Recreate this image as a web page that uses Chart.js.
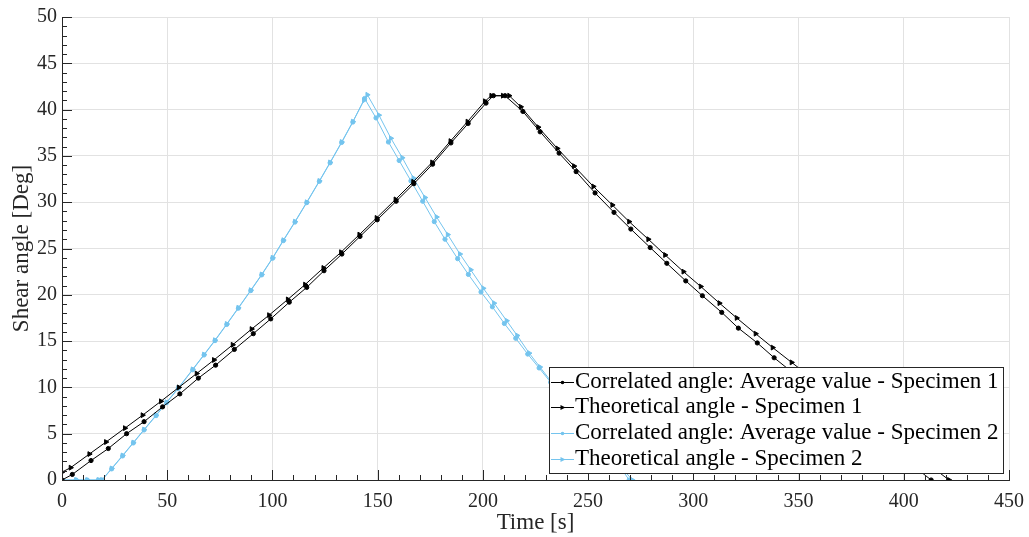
<!DOCTYPE html>
<html>
<head>
<meta charset="utf-8">
<script src="https://cdn.jsdelivr.net/npm/chart.js@4/dist/chart.umd.min.js"></script>
<style>
  html, body { margin: 0; padding: 0; background: #ffffff; }
  #wrap { width: 1029px; height: 537px; }
</style>
</head>
<body>
<div id="wrap"><canvas id="c" width="1029" height="537"></canvas></div>
<script>
// ---- data ----
const seriesLabels = [
  'Correlated angle: Average value - Specimen 1',
  'Theoretical angle - Specimen 1',
  'Correlated angle: Average value - Specimen 2',
  'Theoretical angle - Specimen 2'
];

const tS1Corr = [0, 4.9, 13.8, 22, 30.7, 39, 47.8, 56, 64.8, 73, 81.9, 90.9, 99.2, 108, 116.3, 124.5, 133, 141.6, 149.8, 158.8, 167.2, 176.1, 184.8, 193, 201.5, 205, 210.5, 219, 227.2, 236.2, 244.3, 253.3, 262.3, 270.3, 279.5, 287.4, 296.4, 304.3, 313.5, 321.4, 330.4, 338.4, 347, 355.5, 364, 372.5, 381, 389.5, 398, 406, 413];
const vS1Corr = [0, 0.6, 2.1, 3.4, 5.0, 6.3, 7.9, 9.3, 11.0, 12.4, 14.1, 15.8, 17.4, 19.2, 20.8, 22.6, 24.4, 26.3, 28.1, 30.1, 32.0, 34.1, 36.4, 38.5, 40.7, 41.5, 41.5, 39.8, 37.6, 35.3, 33.3, 31.0, 28.9, 27.1, 25.1, 23.4, 21.5, 19.9, 18.1, 16.4, 14.8, 13.2, 11.63, 10.09, 8.57, 7.07, 5.58, 4.1, 2.64, 1.27, 0];

const tS1Theo = [0, 4.1, 13, 20.9, 29.9, 38.3, 47, 55.5, 64, 72.2, 81.1, 90.1, 98.4, 107.3, 115.5, 124.2, 132.6, 141.3, 149.5, 158.5, 166.9, 175.9, 184.6, 192.7, 201, 204, 209.5, 212.5, 218, 226.3, 235.4, 243.3, 252.5, 261.5, 269.5, 278.6, 286.6, 295.3, 303.5, 312.4, 320.6, 329.6, 337.7, 346.7, 355, 363.5, 372, 380.5, 389, 397.5, 406, 414, 421.5];
const vS1Theo = [0.85, 1.33, 2.8, 4.1, 5.6, 7.0, 8.5, 10.0, 11.5, 12.96, 14.6, 16.3, 17.8, 19.5, 21.1, 22.9, 24.6, 26.5, 28.3, 30.3, 32.2, 34.3, 36.6, 38.7, 40.9, 41.5, 41.5, 41.5, 40.3, 38.1, 35.8, 33.9, 31.7, 29.7, 27.9, 26.0, 24.3, 22.5, 20.9, 19.1, 17.5, 15.8, 14.3, 12.7, 11.24, 9.76, 8.3, 6.85, 5.42, 4.0, 2.6, 1.3, 0];

const tS2Corr = [0, 6.7, 12, 17.3, 19, 23.6, 28.8, 33.9, 39, 44.7, 49.7, 55.3, 62.1, 67.5, 72.7, 78.3, 83.8, 89.7, 94.9, 100.1, 105.2, 110.7, 116.3, 122.3, 127.4, 132.9, 138.2, 143.8, 149.2, 155.1, 160.2, 165.8, 171.4, 176.9, 182, 188, 193.1, 199.1, 204.5, 210.2, 215.6, 221.3, 226.7, 232.2, 237.7, 243.2, 248.7, 254.2, 259.7, 265, 269.5];
const vS2Corr = [0, 0, 0, 0, 0, 1.2, 2.6, 4.0, 5.4, 6.95, 8.35, 9.9, 11.9, 13.5, 15.05, 16.8, 18.55, 20.45, 22.15, 23.95, 25.85, 27.85, 29.95, 32.25, 34.25, 36.45, 38.65, 41.2, 39.1, 36.5, 34.5, 32.3, 30.1, 27.9, 26.0, 23.9, 22.2, 20.3, 18.7, 16.9, 15.3, 13.6, 12.1, 10.55, 9.0, 7.47, 5.95, 4.45, 2.95, 1.5, 0];

const tS2Theo = [0, 6.7, 12, 17.3, 19, 23.6, 28.8, 33.9, 39, 44.7, 49.7, 55.3, 62.1, 67.5, 72.7, 78.3, 83.8, 89.7, 94.9, 100.1, 105.2, 110.7, 116.3, 122.3, 127.4, 132.9, 138.2, 143.5, 145.1, 150.6, 156.3, 161.7, 167, 172.5, 178, 183.3, 189.1, 194.2, 200.2, 205.3, 211.3, 216.3, 222, 227.1, 232.5, 238, 243.5, 249, 254.5, 260, 265.5, 271];
const vS2Theo = [0, 0, 0, 0, 0, 1.25, 2.65, 4.05, 5.45, 7.0, 8.4, 9.95, 11.95, 13.55, 15.1, 16.85, 18.6, 20.5, 22.2, 24.0, 25.9, 27.9, 30.0, 32.3, 34.3, 36.5, 38.7, 41.0, 41.6, 39.4, 36.9, 34.8, 32.6, 30.5, 28.4, 26.5, 24.4, 22.7, 20.7, 19.1, 17.2, 15.6, 13.7, 12.2, 10.62, 9.04, 7.48, 5.94, 4.42, 2.93, 1.45, 0];

const xAxisRange = [0, 450];
const yAxisRange = [0, 50];
const xTickStep = 50, xMinorStep = 10;
const yTickStep = 5, yMinorStep = 1;
const xTitle = 'Time [s]';
const yTitle = 'Shear angle [Deg]';

// ---- styles ----
const BLACK = '#000000';
const BLUE = '#74C4EE';
const AXIS = '#262626';
const GRID = '#e2e2e2';
const SERIF = '"Liberation Serif", "Times New Roman", serif';

function pts(ts, vs) { return ts.map((t, i) => ({ x: t, y: vs[i] })); }

function makeSet(label, ts, vs, color, style) {
  const tri = style === 'tri';
  return {
    label,
    data: pts(ts, vs),
    borderColor: color,
    backgroundColor: color,
    borderWidth: 1,
    pointStyle: tri ? 'triangle' : 'circle',
    rotation: tri ? 90 : 0,
    pointRadius: tri ? 2.8 : 2.1,
    pointBorderWidth: 1,
    pointBackgroundColor: color,
    pointBorderColor: color,
    tension: 0,
    fill: false,
    showLine: true
  };
}

const datasets = [
  makeSet(seriesLabels[0], tS1Corr, vS1Corr, BLACK, 'circ'),
  makeSet(seriesLabels[1], tS1Theo, vS1Theo, BLACK, 'tri'),
  makeSet(seriesLabels[2], tS2Corr, vS2Corr, BLUE, 'circ'),
  makeSet(seriesLabels[3], tS2Theo, vS2Theo, BLUE, 'tri')
];

// inner (MATLAB-style) major and minor ticks
const innerTicks = {
  id: 'innerTicks',
  afterDatasetsDraw(chart) {
    const { ctx, chartArea: a, scales } = chart;
    const x = scales.x, y = scales.y;
    ctx.save();
    ctx.strokeStyle = AXIS;
    ctx.lineWidth = 1;
    ctx.beginPath();
    const nx = Math.round((xAxisRange[1] - xAxisRange[0]) / xMinorStep);
    for (let i = 0; i <= nx; i++) {
      const v = xAxisRange[0] + i * xMinorStep;
      const px = Math.round(x.getPixelForValue(v)) + 0.5;
      const len = (Math.round(v) % xTickStep === 0) ? 10 : 5;
      ctx.moveTo(px, a.bottom);
      ctx.lineTo(px, a.bottom - len);
    }
    const ny = Math.round((yAxisRange[1] - yAxisRange[0]) / yMinorStep);
    for (let i = 0; i <= ny; i++) {
      const v = yAxisRange[0] + i * yMinorStep;
      const py = Math.round(y.getPixelForValue(v)) + 0.5;
      const len = (Math.round(v) % yTickStep === 0) ? 10 : 5;
      ctx.moveTo(a.left, py);
      ctx.lineTo(a.left + len, py);
    }
    ctx.stroke();
    ctx.restore();
  }
};

// boxed legend inside the plot area (south-east)
const boxLegend = {
  id: 'boxLegend',
  afterDraw(chart) {
    const { ctx, chartArea: a } = chart;
    const items = chart.data.datasets;
    ctx.save();
    ctx.font = '23px ' + SERIF;
    const textW = Math.max(...items.map(d => ctx.measureText(d.label).width));
    const rowH = 25.6, sample = 26, padR = 4;
    const w = Math.round(sample + textW + padR);
    const h = Math.round(rowH * items.length + 4);
    const right = Math.round(a.right - 6);
    const bottom = Math.round(a.bottom - 7);
    const left = right - w, top = bottom - h;
    ctx.fillStyle = '#ffffff';
    ctx.fillRect(left, top, w, h);
    ctx.strokeStyle = AXIS;
    ctx.lineWidth = 1;
    ctx.strokeRect(left + 0.5, top + 0.5, w, h);
    items.forEach((d, i) => {
      const cy = top + 2 + rowH * (i + 0.5);
      const ly = Math.round(cy) + 0.5;
      ctx.strokeStyle = d.borderColor;
      ctx.lineWidth = 1;
      ctx.beginPath();
      ctx.moveTo(left + 2, ly);
      ctx.lineTo(left + 25, ly);
      ctx.stroke();
      const mx = left + 13.5;
      ctx.fillStyle = d.borderColor;
      ctx.beginPath();
      if (d.pointStyle === 'triangle') {
        ctx.moveTo(mx + 3, ly);
        ctx.lineTo(mx - 2, ly - 2.5);
        ctx.lineTo(mx - 2, ly + 2.5);
        ctx.closePath();
      } else {
        ctx.arc(mx, ly, 1.8, 0, Math.PI * 2);
      }
      ctx.fill();
      ctx.fillStyle = '#000000';
      ctx.textBaseline = 'middle';
      ctx.textAlign = 'left';
      ctx.fillText(d.label, left + sample, cy);
    });
    ctx.restore();
  }
};

new Chart(document.getElementById('c'), {
  type: 'line',
  data: { datasets },
  options: {
    responsive: false,
    animation: false,
    events: [],
    layout: { padding: { top: 17, right: 20, left: 0, bottom: 0 } },
    plugins: {
      legend: { display: false },
      tooltip: { enabled: false }
    },
    scales: {
      x: {
        type: 'linear',
        min: xAxisRange[0],
        max: xAxisRange[1],
        afterFit(scale) {
          scale.height = 57;
          scale.paddingLeft = 0;
          scale.paddingRight = 0;
        },
        ticks: {
          stepSize: xTickStep,
          color: AXIS,
          padding: 10,
          maxRotation: 0,
          font: { family: SERIF, size: 20 }
        },
        grid: { color: GRID, lineWidth: 1, drawTicks: false },
        border: { color: AXIS, width: 1 },
        title: {
          display: true,
          text: xTitle,
          color: AXIS,
          font: { family: SERIF, size: 23 },
          padding: { top: 0, bottom: 0 }
        }
      },
      y: {
        type: 'linear',
        min: yAxisRange[0],
        max: yAxisRange[1],
        afterFit(scale) {
          scale.width = 62;
          scale.paddingTop = 0;
          scale.paddingBottom = 0;
        },
        ticks: {
          stepSize: yTickStep,
          color: AXIS,
          padding: 5,
          font: { family: SERIF, size: 20 }
        },
        grid: { color: GRID, lineWidth: 1, drawTicks: false },
        border: { color: AXIS, width: 1 },
        title: {
          display: true,
          text: yTitle,
          color: AXIS,
          font: { family: SERIF, size: 23 },
          padding: { top: 8, bottom: 0 }
        }
      }
    }
  },
  plugins: [innerTicks, boxLegend]
});
</script>
</body>
</html>
